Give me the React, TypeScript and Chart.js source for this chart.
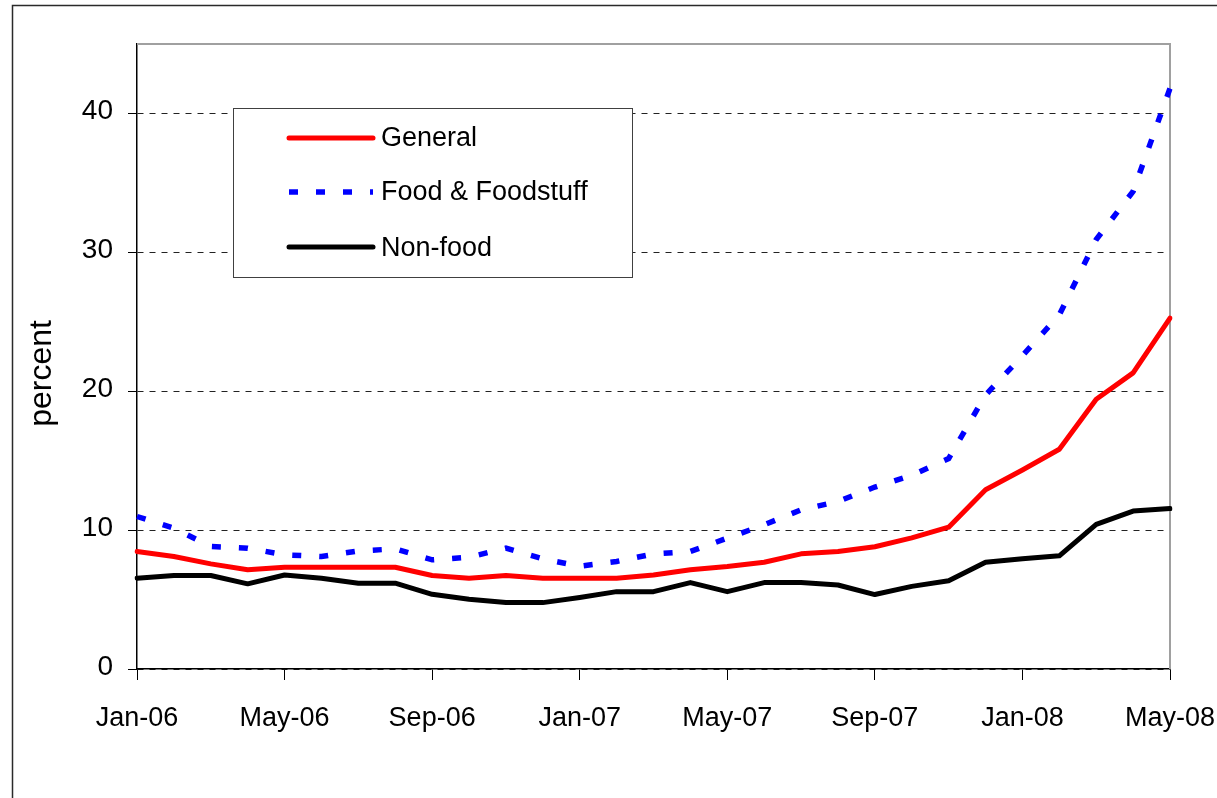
import React, { useEffect, useRef } from "react";
import { Chart, registerables } from "chart.js";

Chart.register(...registerables);

// ---- data ----
const months = [
  "Jan-06", "Feb-06", "Mar-06", "Apr-06", "May-06", "Jun-06", "Jul-06", "Aug-06", "Sep-06", "Oct-06", "Nov-06", "Dec-06",
  "Jan-07", "Feb-07", "Mar-07", "Apr-07", "May-07", "Jun-07", "Jul-07", "Aug-07", "Sep-07", "Oct-07", "Nov-07", "Dec-07",
  "Jan-08", "Feb-08", "Mar-08", "Apr-08", "May-08",
];

const generalValues = [
  8.46, 8.1, 7.57, 7.14, 7.33, 7.33, 7.33, 7.33, 6.73, 6.54, 6.73, 6.54,
  6.54, 6.54, 6.77, 7.14, 7.38, 7.69, 8.29, 8.46, 8.8, 9.44, 10.21, 12.91,
  14.33, 15.82, 19.42, 21.32, 25.26,
];

const foodValues = [
  10.98, 10.14, 8.82, 8.7, 8.22, 8.1, 8.5, 8.65, 7.86, 8.05, 8.7, 7.93,
  7.4, 7.74, 8.29, 8.46, 9.42, 10.38, 11.46, 12.06, 13.1, 13.95, 15.15, 19.73,
  22.56, 25.5, 30.92, 34.39, 41.8,
];

const nonFoodValues = [
  6.54, 6.73, 6.73, 6.13, 6.77, 6.54, 6.18, 6.18, 5.38, 5.02, 4.78, 4.78,
  5.15, 5.57, 5.57, 6.22, 5.57, 6.22, 6.22, 6.05, 5.36, 5.95, 6.35, 7.69,
  7.94, 8.15, 10.41, 11.37, 11.55,
];

const seriesLabels = ["General", "Food & Foodstuff", "Non-food"];
const yTickValues = [0, 10, 20, 30, 40];
const xTickEvery = 4;
const yAxisTitle = "percent";

// ---- styling ----
const W = 1217;
const H = 798;
const FONT = '"Liberation Sans", Arial, sans-serif';

const decorPlugin = {
  id: "decor",
  beforeDraw(chart: any) {
    const ctx = chart.ctx;
    ctx.save();
    ctx.fillStyle = "#ffffff";
    ctx.fillRect(0, 0, chart.width, chart.height);
    ctx.strokeStyle = "#2a2a2a";
    ctx.lineWidth = 1.5;
    ctx.strokeRect(12.5, 5.5, 1400, 1000);
    ctx.restore();
  },
  beforeDatasetsDraw(chart: any) {
    const { ctx, chartArea } = chart;
    ctx.save();
    ctx.strokeStyle = "#a0a0a0";
    ctx.lineWidth = 2;
    ctx.beginPath();
    ctx.moveTo(chartArea.left, chartArea.top);
    ctx.lineTo(chartArea.right, chartArea.top);
    ctx.lineTo(chartArea.right, chartArea.bottom);
    ctx.stroke();
    ctx.restore();
  },
  afterDraw(chart: any) {
    const ctx = chart.ctx;
    // legend box
    const bx = 233.5, by = 108.5, bw = 399, bh = 169;
    ctx.save();
    ctx.fillStyle = "#ffffff";
    ctx.fillRect(bx, by, bw, bh);
    ctx.strokeStyle = "#404040";
    ctx.lineWidth = 1;
    ctx.strokeRect(bx, by, bw, bh);
    const rowLineY = [138, 192, 247];
    const rowTextY = [146, 200, 256];
    chart.data.datasets.forEach((ds: any, i: number) => {
      ctx.save();
      ctx.strokeStyle = ds.borderColor;
      ctx.lineWidth = ds.borderWidth;
      ctx.lineCap = ds.borderDash && ds.borderDash.length ? "butt" : "round";
      ctx.setLineDash(ds.borderDash || []);
      ctx.beginPath();
      ctx.moveTo(289, rowLineY[i]);
      ctx.lineTo(373, rowLineY[i]);
      ctx.stroke();
      ctx.restore();
      ctx.fillStyle = "#000000";
      ctx.font = `27px ${FONT}`;
      ctx.textAlign = "left";
      ctx.textBaseline = "alphabetic";
      ctx.fillText(ds.label, 381, rowTextY[i]);
    });
    // y axis title
    ctx.translate(51, 373.5);
    ctx.rotate(-Math.PI / 2);
    ctx.font = `32px ${FONT}`;
    ctx.fillStyle = "#000000";
    ctx.textAlign = "center";
    ctx.textBaseline = "alphabetic";
    ctx.fillText(yAxisTitle, 0, 0);
    ctx.restore();
  },
};

export default function App() {
  const canvasRef = useRef<HTMLCanvasElement | null>(null);

  useEffect(() => {
    const canvas = canvasRef.current;
    if (!canvas) return;
    const chart = new Chart(canvas, {
      type: "line",
      data: {
        labels: months,
        datasets: [
          {
            label: seriesLabels[0],
            data: generalValues,
            borderColor: "#ff0000",
            backgroundColor: "#ff0000",
            borderWidth: 5,
            pointRadius: 0,
            tension: 0,
            borderJoinStyle: "round",
            borderCapStyle: "round",
          },
          {
            label: seriesLabels[1],
            data: foodValues,
            borderColor: "#0000ff",
            backgroundColor: "#0000ff",
            borderWidth: 5.5,
            borderDash: [9, 18],
            pointRadius: 0,
            tension: 0,
            borderJoinStyle: "miter",
            borderCapStyle: "butt",
          },
          {
            label: seriesLabels[2],
            data: nonFoodValues,
            borderColor: "#000000",
            backgroundColor: "#000000",
            borderWidth: 5,
            pointRadius: 0,
            tension: 0,
            borderJoinStyle: "round",
            borderCapStyle: "round",
          },
        ],
      },
      options: {
        responsive: false,
        maintainAspectRatio: false,
        devicePixelRatio: 1,
        animation: false,
        events: [],
        layout: { padding: { left: 0, top: 44, right: 47, bottom: 0 } },
        plugins: {
          legend: { display: false },
          tooltip: { enabled: false },
          title: { display: false },
        },
        scales: {
          x: {
            type: "category",
            offset: false,
            afterBuildTicks: (scale: any) => {
              scale.ticks = scale.ticks.filter((_t: any, i: number) => i % xTickEvery === 0);
            },
            afterFit: (scale: any) => {
              scale.height = H - 669;
              scale.paddingLeft = 0;
              scale.paddingRight = 0;
            },
            grid: {
              drawOnChartArea: false,
              drawTicks: true,
              tickLength: 11,
              tickColor: "#000000",
              color: "#000000",
              lineWidth: 1,
            },
            border: { display: true, color: "#000000", width: 1.5 },
            ticks: {
              autoSkip: false,
              maxRotation: 0,
              minRotation: 0,
              padding: 22,
              color: "#000000",
              font: { family: FONT, size: 27 },
            },
          },
          y: {
            type: "linear",
            min: 0,
            max: 45,
            afterBuildTicks: (scale: any) => {
              scale.ticks = yTickValues.map((v) => ({ value: v }));
            },
            afterFit: (scale: any) => {
              scale.width = 137;
              scale.paddingTop = 0;
              scale.paddingBottom = 0;
            },
            grid: {
              drawOnChartArea: true,
              drawTicks: true,
              tickLength: 9,
              tickColor: "#000000",
              tickBorderDash: [],
              color: "#222222",
              lineWidth: 1,
            },
            border: { display: true, color: "#000000", width: 1.5, dash: [6, 6] },
            ticks: {
              padding: 15,
              labelOffset: -2,
              color: "#000000",
              font: { family: FONT, size: 28 },
            },
          },
        },
      },
      plugins: [decorPlugin],
    } as any);
    return () => chart.destroy();
  }, []);

  return (
    <div style={{ position: "absolute", left: 0, top: 0, width: W, height: H, background: "#fff" }}>
      <canvas ref={canvasRef} width={W} height={H} style={{ display: "block", width: W, height: H }} />
    </div>
  );
}
